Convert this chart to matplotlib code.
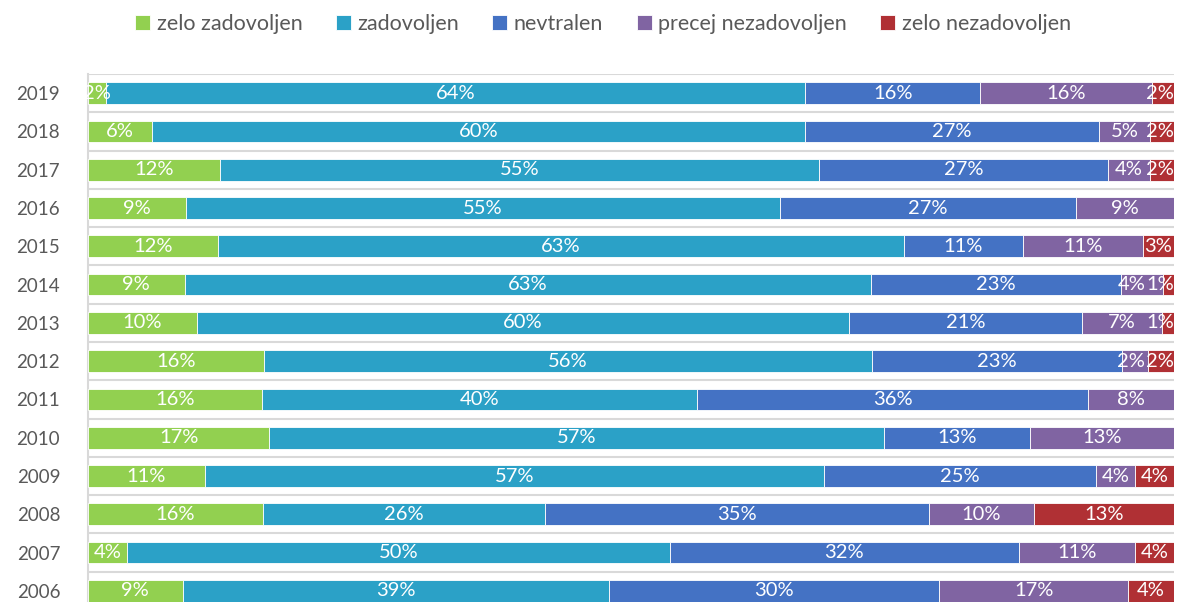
import matplotlib
matplotlib.use("Agg")
import matplotlib.pyplot as plt
import numpy as np

years = ["2019", "2018", "2017", "2016", "2015", "2014", "2013", "2012",
         "2011", "2010", "2009", "2008", "2007", "2006"]
series_names = ["zelo zadovoljen", "zadovoljen", "nevtralen",
                "precej nezadovoljen", "zelo nezadovoljen"]
zelo_zadovoljen = [1.7, 5.9, 12.2, 9.0, 12.0, 8.9, 10.0, 16.2, 16.0, 16.7, 10.8, 16.1, 3.6, 8.7]
zadovoljen = [64.3, 60.1, 55.2, 54.7, 63.1, 63.2, 60.1, 56.0, 40.0, 56.7, 57.1, 25.9, 50.0, 39.2]
nevtralen = [16.1, 27.1, 26.6, 27.3, 11.0, 23.0, 21.4, 23.0, 36.0, 13.4, 25.1, 35.4, 32.2, 30.4]
precej_nezadovoljen = [15.8, 4.7, 3.9, 9.0, 11.0, 3.9, 7.4, 2.4, 7.9, 13.3, 3.6, 9.6, 10.7, 17.4]
zelo_nezadovoljen = [2.0, 2.2, 2.2, 0.0, 2.9, 1.0, 1.1, 2.4, 0.0, 0.0, 3.6, 12.9, 3.6, 4.2]

colors = ["#92D050", "#2BA1C7", "#4472C4", "#8064A2", "#B03034"]

plt.rcParams['font.family'] = ['Lato', 'DejaVu Sans']

data = np.array([zelo_zadovoljen, zadovoljen, nevtralen, precej_nezadovoljen, zelo_nezadovoljen])
totals = data.sum(axis=0)
norm = data / totals * 100

fig = plt.figure(figsize=(11.78, 6.02), dpi=100)
ax = fig.add_axes([88/1178, -8/602, (1174-88)/1178, (610-74)/602])

y = np.arange(len(years))
left = np.zeros(len(years))
handles = []
row_labels = [[] for _ in years]
for k in range(5):
    b = ax.barh(y, norm[k], left=left, height=0.57, color=colors[k],
                edgecolor="white", linewidth=0.6, label=series_names[k], zorder=3)
    handles.append(b)
    for i in range(len(years)):
        v = data[k, i]
        if v > 0:
            t = ax.text(left[i] + norm[k, i] / 2, y[i], f"{int(np.floor(v + 0.5))}%",
                        ha="center", va="center", color="white", fontsize=14.5,
                        zorder=4, clip_on=False)
            row_labels[i].append(t)
    left += norm[k]

ax.set_xlim(0, 100)
ax.set_ylim(len(years) - 0.5, -0.5)
ax.set_yticks(y)
ax.set_yticklabels(years, fontsize=13.5, color="#595959")
ax.tick_params(axis="y", length=0, pad=20)
ax.set_xticks([])
for b in np.arange(-0.5, len(years), 1.0):
    ax.axhline(b, color="#D9D9D9", linewidth=1.5, zorder=1)
for s in ["top", "right", "bottom"]:
    ax.spines[s].set_visible(False)
ax.spines["left"].set_color("#D9D9D9")
ax.spines["left"].set_linewidth(1.5)

# keep labels inside the plot area and avoid overlaps (right to left)
fig.canvas.draw()
renderer = fig.canvas.get_renderer()
inv = ax.transData.inverted()
limit = ax.get_window_extent(renderer).x1
for row in row_labels:
    limit = ax.get_window_extent(renderer).x1
    for t in reversed(row):
        bb = t.get_window_extent(renderer)
        if bb.x1 > limit:
            shift = bb.x1 - limit
            cx = (bb.x0 + bb.x1) / 2 - shift
            t.set_x(inv.transform((cx, 0))[0])
            bb = t.get_window_extent(renderer)
        limit = bb.x0 - 1

fig.legend(handles=handles, labels=series_names, loc="center",
           bbox_to_anchor=(603/1178, 1 - 24/602),
           ncol=5, frameon=False, fontsize=15.5, handlelength=0.7, handleheight=0.7,
           handletextpad=0.3, columnspacing=1.55, labelcolor="#595959")

fig.savefig("out.png", dpi=100)
